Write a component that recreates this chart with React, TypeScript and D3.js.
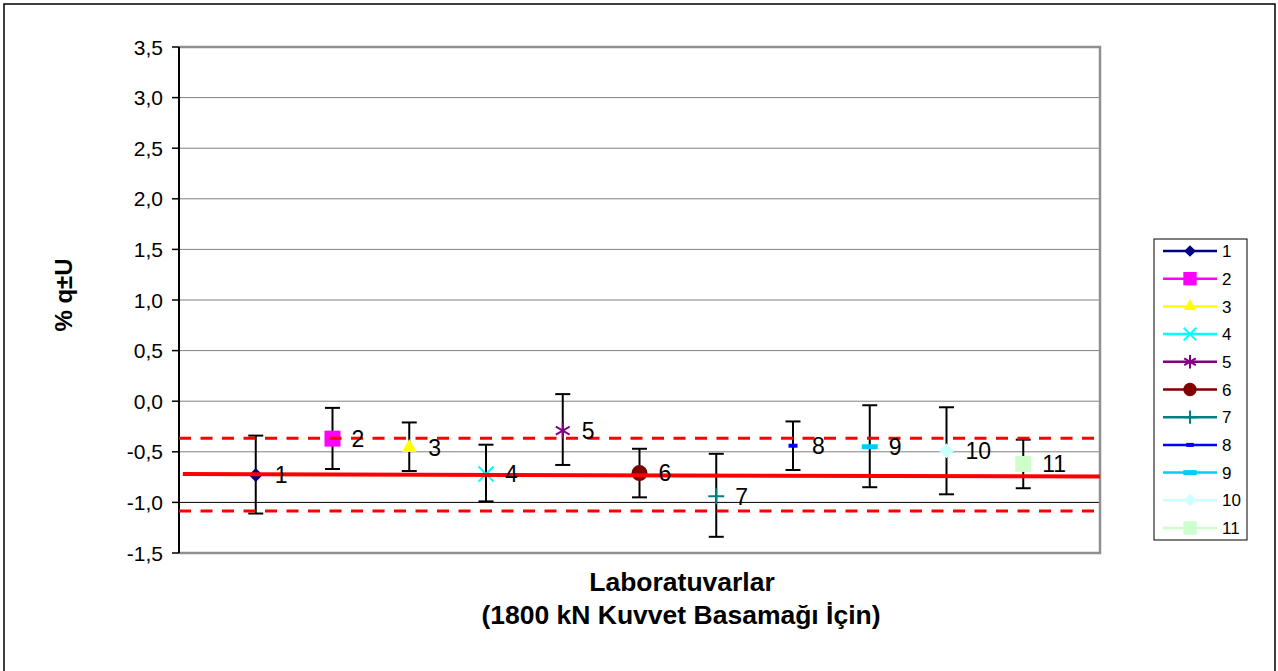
import * as d3 from "d3";

// lab numbers, measured value and the two ends of each error bar (% q ± U)
const labs = ["1", "2", "3", "4", "5", "6", "7", "8", "9", "10", "11"];
const values = [-0.73, -0.37, -0.46, -0.72, -0.29, -0.71, -0.94, -0.44, -0.45, -0.49, -0.62];
const upperU = [-0.34, -0.066, -0.21, -0.43, 0.07, -0.47, -0.52, -0.2, -0.04, -0.06, -0.38];
const lowerU = [-1.11, -0.67, -0.69, -0.99, -0.63, -0.95, -1.34, -0.68, -0.85, -0.92, -0.86];

// reference value line and its limits
const refLine = [
  { x: 0.05, y: -0.72 },
  { x: 12, y: -0.745 },
];
const upperLimit = [
  { x: 0, y: -0.365 },
  { x: 12, y: -0.365 },
];
const lowerLimit = [
  { x: 0, y: -1.085 },
  { x: 12, y: -1.085 },
];

const yTicks = [-1.5, -1.0, -0.5, 0.0, 0.5, 1.0, 1.5, 2.0, 2.5, 3.0, 3.5];

const colors = [
  "#000080", "#FF00FF", "#FFFF00", "#00FFFF", "#800080", "#800000",
  "#008080", "#0000FF", "#00CCFF", "#CCFFFF", "#CCFFCC",
];

// Excel-like dash markers (not in d3)
const dashSmall = {
  draw(ctx: any, size: number) {
    const w = Math.sqrt(size);
    ctx.rect(-w / 2, -2, w, 4);
  },
};
const dashWide = {
  draw(ctx: any, size: number) {
    const w = Math.sqrt(size);
    ctx.rect(-w / 2, -2.5, w, 5);
  },
};

const markers: { type: any; size: number; stroke: boolean }[] = [
  { type: d3.symbolDiamond2, size: 125, stroke: false },
  { type: d3.symbolSquare, size: 256, stroke: false },
  { type: d3.symbolTriangle, size: 97, stroke: false },
  { type: d3.symbolTimes, size: 150, stroke: true },
  { type: d3.symbolAsterisk, size: 180, stroke: true },
  { type: d3.symbolCircle, size: 201, stroke: false },
  { type: d3.symbolPlus, size: 85, stroke: true },
  { type: dashSmall, size: 81, stroke: false },
  { type: dashWide, size: 256, stroke: false },
  { type: d3.symbolDiamond2, size: 143, stroke: false },
  { type: d3.symbolSquare, size: 256, stroke: false },
];

const W = 1278;
const H = 671;
const left = 179;
const right = 1100;
const top = 47;
const bottom = 553;

const fmt = (v: number) => v.toFixed(1).replace(".", ",");

function Marker({ i, x, y, scale = 1 }: { i: number; x: number; y: number; scale?: number }) {
  const m = markers[i];
  const d = d3.symbol().type(m.type).size(m.size * scale)()!;
  return (
    <path
      d={d}
      transform={`translate(${x},${y})`}
      fill={m.stroke ? "none" : colors[i]}
      stroke={m.stroke ? colors[i] : "none"}
      strokeWidth={m.stroke ? 2 : 0}
    />
  );
}

export default function App() {
  const x = d3.scaleLinear().domain([0, 12]).range([left, right]);
  const y = d3.scaleLinear().domain([-1.5, 3.5]).range([bottom, top]);
  const line = d3
    .line<{ x: number; y: number }>()
    .x((d) => x(d.x))
    .y((d) => y(d.y));

  const font = "Arial, 'Liberation Sans', sans-serif";
  const legendX = 1154;
  const legendY = 239;
  const step = 27.7;

  return (
    <svg
      width={W}
      height={H}
      style={{ position: "absolute", left: 0, top: 0, background: "#fff" }}
      fontFamily={font}
    >
      <rect x={4} y={4} width={1271} height={680} fill="#fff" stroke="#000" strokeWidth={1.5} />

      {/* grid */}
      {yTicks.map((t) => (
        <line
          key={t}
          x1={left}
          x2={right}
          y1={y(t)}
          y2={y(t)}
          stroke={t === -1 ? "#000" : "#808080"}
          strokeWidth={1}
        />
      ))}
      {/* plot frame */}
      <polyline
        points={`${left},${top} ${right},${top} ${right},${bottom} ${left},${bottom}`}
        fill="none"
        stroke="#909090"
        strokeWidth={2.5}
      />
      <line x1={left} x2={left} y1={top} y2={bottom} stroke="#000" strokeWidth={2} />
      {yTicks.map((t) => (
        <g key={t} transform={`translate(${left},${y(t)})`}>
          <line x1={-7} x2={0} stroke="#000" strokeWidth={1.5} />
          <text x={-16} dy="0.36em" textAnchor="end" fontSize={21}>
            {fmt(t)}
          </text>
        </g>
      ))}

      {/* error bars */}
      {labs.map((l, i) => {
        const cx = x(i + 1);
        return (
          <g key={l} stroke="#000" strokeWidth={2}>
            <line x1={cx} x2={cx} y1={y(upperU[i])} y2={y(lowerU[i])} />
            <line x1={cx - 7.5} x2={cx + 7.5} y1={y(upperU[i])} y2={y(upperU[i])} />
            <line x1={cx - 7.5} x2={cx + 7.5} y1={y(lowerU[i])} y2={y(lowerU[i])} />
          </g>
        );
      })}

      {/* markers */}
      {labs.map((l, i) => (
        <Marker key={l} i={i} x={x(i + 1)} y={y(values[i])} />
      ))}

      {/* reference lines */}
      <path d={line(refLine)!} fill="none" stroke="#FF0000" strokeWidth={4} />
      <path d={line(upperLimit)!} fill="none" stroke="#FF0000" strokeWidth={3} strokeDasharray="12,9.5" />
      <path d={line(lowerLimit)!} fill="none" stroke="#FF0000" strokeWidth={3} strokeDasharray="12,9.5" />

      {/* point labels */}
      {labs.map((l, i) => (
        <text key={l} x={x(i + 1) + 19} y={y(values[i])} dy="0.36em" fontSize={23}>
          {l}
        </text>
      ))}

      {/* axis titles */}
      <text
        transform="translate(72,295) rotate(-90)"
        textAnchor="middle"
        fontSize={24}
        fontWeight="bold"
      >
        % q±U
      </text>
      <text x={682} y={591} textAnchor="middle" fontSize={26.5} fontWeight="bold">
        Laboratuvarlar
      </text>
      <text x={681} y={624} textAnchor="middle" fontSize={26.5} fontWeight="bold">
        (1800 kN Kuvvet Basamağı İçin)
      </text>

      {/* legend */}
      <rect x={legendX} y={legendY} width={93} height={301} fill="#fff" stroke="#000" strokeWidth={1} />
      {labs.map((l, i) => {
        const ly = legendY + 12 + i * step;
        return (
          <g key={l}>
            <line x1={legendX + 9} x2={legendX + 63} y1={ly} y2={ly} stroke={colors[i]} strokeWidth={2.5} />
            <Marker i={i} x={legendX + 36} y={ly} scale={0.7} />
            <text x={legendX + 68} y={ly} dy="0.36em" fontSize={17}>
              {l}
            </text>
          </g>
        );
      })}
    </svg>
  );
}
